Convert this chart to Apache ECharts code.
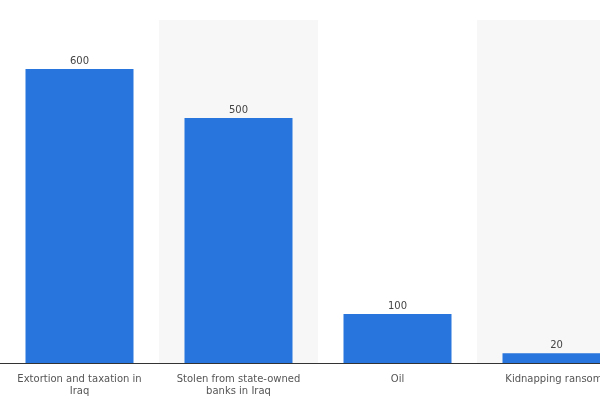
<!DOCTYPE html>
<html><head><meta charset="utf-8">
<script src="https://cdn.jsdelivr.net/npm/echarts@6/dist/echarts.min.js"></script>
<style>html,body{margin:0;padding:0;background:#fff;overflow:hidden}#c{width:636px;height:400px}</style>
</head><body><div id="c"></div>
<script>
const categories = ["Extortion and taxation in\nIraq", "Stolen from state-owned\nbanks in Iraq", "Oil", "Kidnapping ransoms"];
const values = [600, 500, 100, 20];
const chart = echarts.init(document.getElementById('c'));
chart.setOption({
  animation: false,
  grid: {left: 0, right: 0, top: 20, bottom: 37},
  xAxis: {
    type: 'category', data: categories,
    axisLine: {lineStyle: {color: '#333', width: 1}},
    axisTick: {show: false},
    axisLabel: {color: '#555', fontSize: 10, fontFamily: 'DejaVu Sans', interval: 0, lineHeight: 12, margin: 10},
    splitArea: {show: true, areaStyle: {color: ['#ffffff', '#f7f7f7']}}
  },
  yAxis: {
    type: 'value', min: 0, max: 700, interval: 100,
    axisLabel: {show: false}, axisLine: {show: false}, axisTick: {show: false},
    splitLine: {show: true, lineStyle: {color: '#aaa', type: [1, 2], width: 1}}
  },
  series: [{
    type: 'bar', data: values, barWidth: 108,
    itemStyle: {color: '#2876dd'},
    label: {show: true, position: 'top', color: '#444', fontSize: 10, fontFamily: 'DejaVu Sans', distance: 3}
  }]
});
</script></body></html>
